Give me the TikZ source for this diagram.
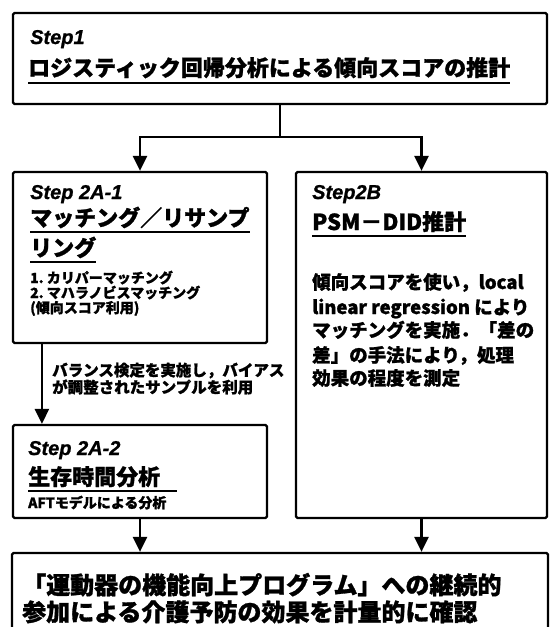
\documentclass[tikz,border=0pt]{standalone}
\usepackage{fontspec}
\usetikzlibrary{arrows.meta,calc}
\newfontfamily\jp{Noto Sans CJK JP}[BoldFeatures={FakeBold=1.2}]
\newfontfamily\lat{Liberation Sans}[BoldItalicFeatures={FakeBold=1}]
\tikzset{
  box/.style={draw, line width=2.2pt, rounded corners=1.5pt, inner sep=0pt},
  arr/.style={line width=2.6pt, -{Triangle[width=14pt,length=15pt]}},
  plainline/.style={line width=2.6pt},
  ul/.style={line width=2pt},
  steplbl/.style={anchor=base west, inner sep=0pt, font=\lat\bfseries\itshape\fontsize{20}{20}\selectfont},
  head/.style={anchor=base west, inner sep=0pt, font=\jp\bfseries\fontsize{22}{22}\selectfont},
  small/.style={anchor=base west, inner sep=0pt, font=\jp\bfseries\fontsize{14}{14}\selectfont},
  para/.style={anchor=base west, inner sep=0pt, font=\jp\bfseries\fontsize{18.5}{18.5}\selectfont},
  lbl/.style={anchor=base west, inner sep=0pt, font=\jp\bfseries\fontsize{15.5}{15.5}\selectfont},
  big/.style={anchor=base west, inner sep=0pt, font=\jp\bfseries\fontsize{24}{24}\selectfont},
}
\begin{document}
\begin{tikzpicture}[x=1pt,y=-1pt]
\useasboundingbox (0,0) rectangle (550,627);
\clip (0,0) rectangle (550,627);
% boxes
\node[box, minimum width=534pt, minimum height=91pt] (s1) at (280,58.5) {};
\node[box, minimum width=254pt, minimum height=171pt] (a1) at (140,257.5) {};
\node[box, minimum width=251pt, minimum height=346pt] (b) at (421.5,345) {};
\node[box, minimum width=254pt, minimum height=93pt] (a2) at (140,471.5) {};
\node[box, minimum width=536pt, minimum height=100pt] (fin) at (280,603) {};
% Step1 text
\node[steplbl] (s1l) at (30,44) {Step1};
\node[head] (s1h) at (28,76) {ロジスティック回帰分析による傾向スコアの推計};
\draw[ul] ($(s1h.base west)+(0,7)$) -- ($(s1h.base east)+(0,7)$);
% Step2A-1 text
\node[steplbl] (a1l) at (30,199) {Step 2A-1};
\node[head] (a1h1) at (30,226) {マッチング／リサンプ};
\draw[ul] ($(a1h1.base west)+(0,6)$) -- ($(a1h1.base east)+(0,6)$);
\node[head] (a1h2) at (30,256) {リング};
\draw[ul] ($(a1h2.base west)+(0,6)$) -- ($(a1h2.base east)+(0,6)$);
\node[small] (a1i1) at (30,283) {1.\ カリパーマッチング};
\node[small] (a1i2) at (30,298) {2.\ マハラノビスマッチング};
\node[small] (a1i3) at (30,313) {(傾向スコア利用)};
% Step2B text
\node[steplbl] (bl) at (312,199) {Step2B};
\node[head] (bh) at (312,230) {PSM－DID推計};
\draw[ul] ($(bh.base west)+(0,6)$) -- ($(bh.base east)+(0,6)$);
\node[para] (bp1) at (312,289) {傾向スコアを使い，local};
\node[para] (bp2) at (312,314) {linear regression により};
\node[para] (bp3) at (312,337) {マッチングを実施．「差の};
\node[para] (bp4) at (312,362) {差」の手法により，処理};
\node[para] (bp5) at (312,385) {効果の程度を測定};
% Step2A-2 text
\node[steplbl] (a2l) at (28,455) {Step 2A-2};
\node[head] (a2h) at (28,485) {生存時間分析};
\draw[ul] ($(a2h.base west)+(0,6)$) -- ($(a2h.base east)+(17,6)$);
\node[small] (a2s) at (28,508) {AFTモデルによる分析};
% final text
\node[big] (f1) at (22,594) {「運動器の機能向上プログラム」への継続的};
\node[big] (f2) at (22,621) {参加による介護予防の効果を計量的に確認};
% arrow label
\node[lbl] (al1) at (52,376) {バランス検定を実施し，バイアス};
\node[lbl] (al2) at (52,393) {が調整されたサンプルを利用};
% connectors
\coordinate (j) at (281,137);
\draw[plainline] (s1.south) -- (s1.south |- j);
\draw[arr] (s1.south |- j) -| (a1.north);
\draw[arr] (s1.south |- j) -| (b.north);
\draw[arr] ($(a1.south west)+(30,0)$) -- ($(a2.north west)+(30,0)$);
\draw[arr] (a2.south) -- (a2.south |- fin.north);
\draw[arr] (b.south) -- (b.south |- fin.north);
\end{tikzpicture}
\end{document}
